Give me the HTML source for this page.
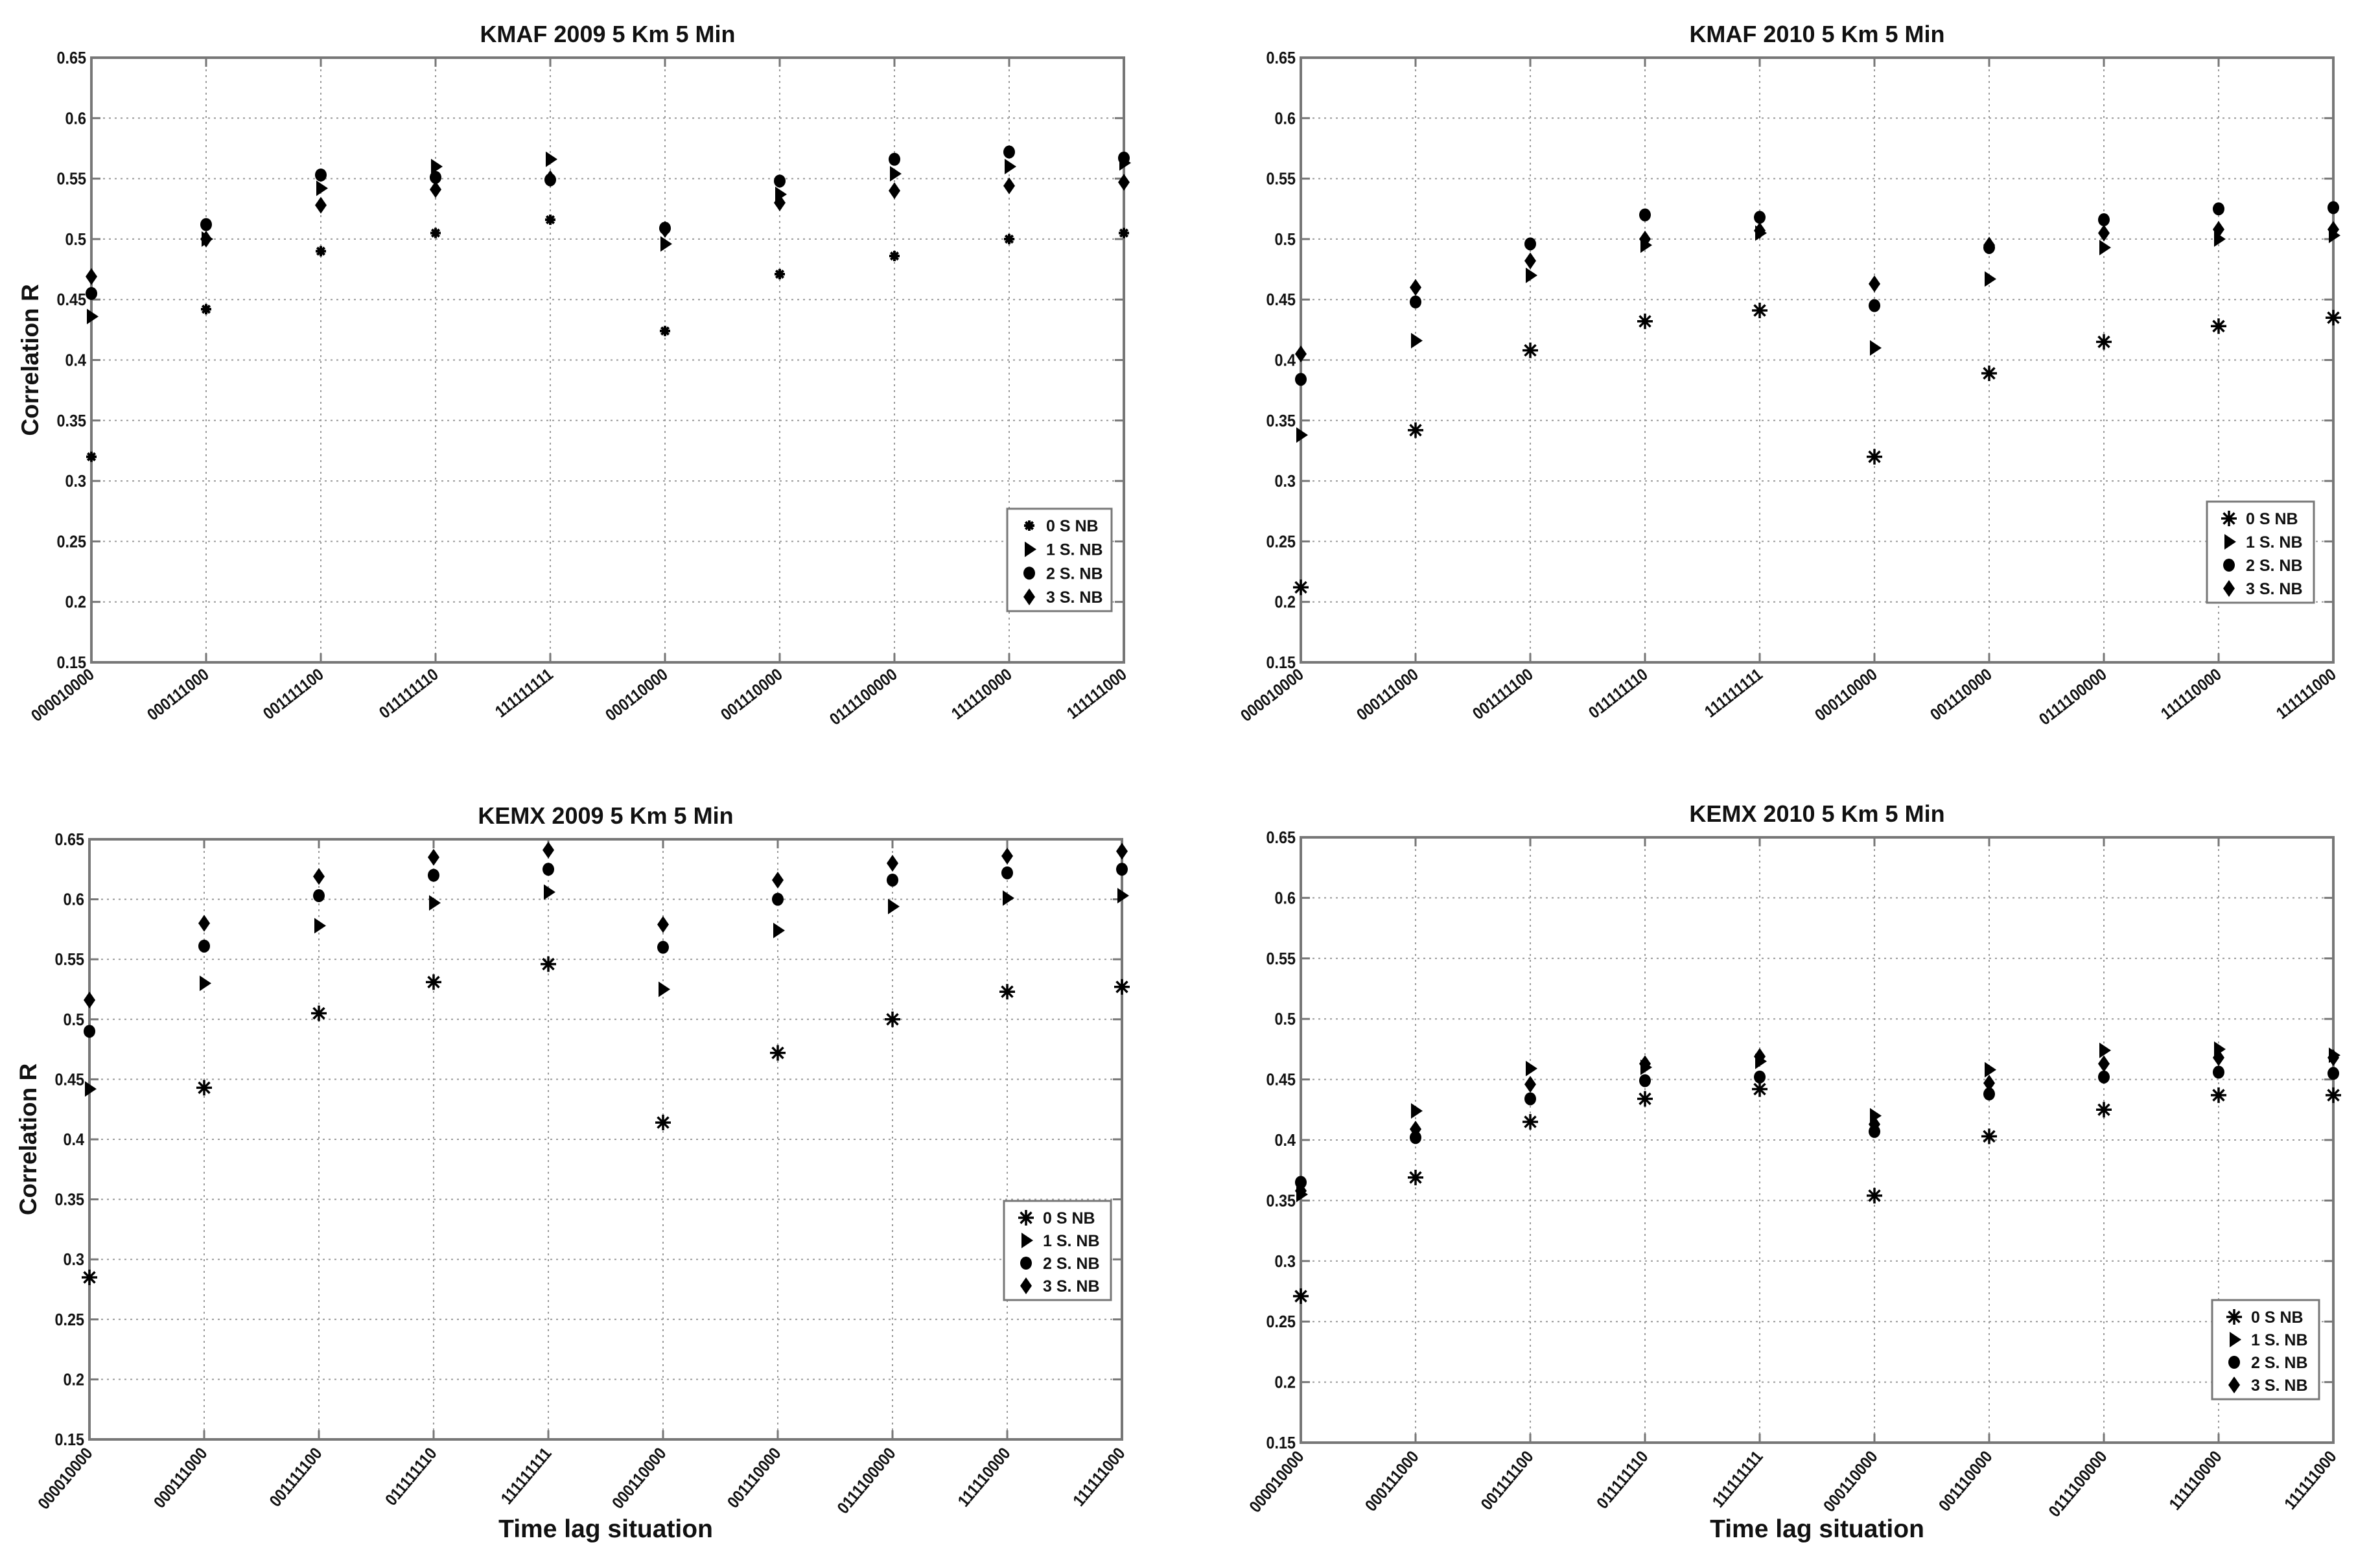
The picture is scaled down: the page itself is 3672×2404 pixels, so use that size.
<!DOCTYPE html>
<html><head><meta charset="utf-8"><style>
html,body{margin:0;padding:0;background:#fff;}
svg{display:block;}
text{font-family:"Liberation Sans",sans-serif;fill:#111;}
</style></head><body>
<svg id="fig" width="3672" height="2404" viewBox="0 0 3672 2404" xmlns="http://www.w3.org/2000/svg"></svg>
<script>
const categories = ["000010000","000111000","001111100","011111110","111111111","000110000","001110000","0111100000","111110000","111111000"];
const yTicks = [0.15,0.2,0.25,0.3,0.35,0.4,0.45,0.5,0.55,0.6,0.65];
const yTickLabels = ["0.15","0.2","0.25","0.3","0.35","0.4","0.45","0.5","0.55","0.6","0.65"];
const seriesNames = ["0 S NB","1 S. NB","2 S. NB","3 S. NB"];
const kmaf2009_s0 = [.32,.442,.49,.505,.516,.424,.471,.486,.5,.505];
const kmaf2009_s1 = [.436,.5,.542,.56,.566,.496,.537,.554,.56,.563];
const kmaf2009_s2 = [.455,.512,.553,.551,.549,.509,.548,.566,.572,.567];
const kmaf2009_s3 = [.469,.5,.528,.541,.55,.508,.53,.54,.544,.547];
const kmaf2010_s0 = [.212,.342,.408,.432,.441,.32,.389,.415,.428,.435];
const kmaf2010_s1 = [.338,.416,.47,.495,.505,.41,.467,.493,.5,.503];
const kmaf2010_s2 = [.384,.448,.496,.52,.518,.445,.493,.516,.525,.526];
const kmaf2010_s3 = [.405,.46,.482,.5,.507,.463,.495,.505,.508,.508];
const kemx2009_s0 = [.285,.443,.505,.531,.546,.414,.472,.5,.523,.527];
const kemx2009_s1 = [.442,.53,.578,.597,.606,.525,.574,.594,.601,.603];
const kemx2009_s2 = [.49,.561,.603,.62,.625,.56,.6,.616,.622,.625];
const kemx2009_s3 = [.516,.58,.619,.635,.641,.579,.616,.63,.636,.64];
const kemx2010_s0 = [.271,.369,.415,.434,.442,.354,.403,.425,.437,.437];
const kemx2010_s1 = [.355,.424,.459,.46,.465,.42,.458,.474,.475,.47];
const kemx2010_s2 = [.365,.402,.434,.449,.452,.407,.438,.452,.456,.455];
const kemx2010_s3 = [.358,.409,.446,.463,.469,.413,.447,.463,.468,.468];

const NS="http://www.w3.org/2000/svg";
const svg=document.getElementById('fig');
function mk(tag,attrs,parent){const e=document.createElementNS(NS,tag);for(const k in attrs)e.setAttribute(k,attrs[k]);(parent||svg).appendChild(e);return e;}

const panels=[
 {id:'kmaf-2009',title:'KMAF 2009 5 Km 5 Min',x0:141,x1:1734,y0:89,y1:1022,data:[kmaf2009_s0,kmaf2009_s1,kmaf2009_s2,kmaf2009_s3],leg:[1554,785,161,158],ylab:true,xlab:false,smallStar:true,ang:-38},
 {id:'kmaf-2010',title:'KMAF 2010 5 Km 5 Min',x0:2007,x1:3600,y0:89,y1:1022,data:[kmaf2010_s0,kmaf2010_s1,kmaf2010_s2,kmaf2010_s3],leg:[3405,774,165,156],ylab:false,xlab:false,ang:-38},
 {id:'kemx-2009',title:'KEMX 2009 5 Km 5 Min',x0:138,x1:1731,y0:1295,y1:2221,data:[kemx2009_s0,kemx2009_s1,kemx2009_s2,kemx2009_s3],leg:[1549,1853,165,153],ylab:true,xlab:true,ang:-50},
 {id:'kemx-2010',title:'KEMX 2010 5 Km 5 Min',x0:2007,x1:3600,y0:1292,y1:2226,data:[kemx2010_s0,kemx2010_s1,kemx2010_s2,kemx2010_s3],leg:[3413,2006,165,153],ylab:false,xlab:true,ang:-50}
];

function marker(g,type,cx,cy,s,small){
  if(type===0){
    const r=small?8:12;
    const p=mk('g',{stroke:'#000','stroke-width':small?4:3.5},g);
    for(let a=0;a<4;a++){const t=a*Math.PI/4;mk('line',{x1:cx-r*Math.cos(t),y1:cy-r*Math.sin(t),x2:cx+r*Math.cos(t),y2:cy+r*Math.sin(t)},p);}
    return p;
  } else if(type===1){
    return mk('path',{d:`M${cx-7},${cy-12} L${cx+11},${cy} L${cx-7},${cy+12} Z`,fill:'#000'},g);
  } else if(type===2){
    return mk('ellipse',{cx:cx,cy:cy,rx:9,ry:10,fill:'#000'},g);
  } else {
    return mk('path',{d:`M${cx},${cy-13} L${cx+9},${cy} L${cx},${cy+13} L${cx-9},${cy} Z`,fill:'#000'},g);
  }
}

panels.forEach(P=>{
  const g=mk('g',{});
  
  
  const W=P.x1-P.x0,H=P.y1-P.y0;
  const xs=i=>P.x0+i*W/(categories.length-1);
  const ys=v=>P.y0+(0.65-v)/0.5*H;
  const grid=mk('g',{stroke:'#999','stroke-width':2,'stroke-dasharray':'3,6'},g);
  
  
  yTicks.forEach(v=>{mk('line',{x1:P.x0,x2:P.x1,y1:ys(v),y2:ys(v)},grid);});
  categories.forEach((c,i)=>{mk('line',{x1:xs(i),x2:xs(i),y1:P.y0,y2:P.y1},grid);});
  const tk=mk('g',{stroke:'#777','stroke-width':3},g);
  yTicks.forEach(v=>{mk('line',{x1:P.x0,x2:P.x0+14,y1:ys(v),y2:ys(v)},tk);mk('line',{x1:P.x1,x2:P.x1-14,y1:ys(v),y2:ys(v)},tk);});
  categories.forEach((c,i)=>{mk('line',{x1:xs(i),x2:xs(i),y1:P.y1,y2:P.y1-14},tk);mk('line',{x1:xs(i),x2:xs(i),y1:P.y0,y2:P.y0+14},tk);});
  const frame=mk('rect',{x:P.x0,y:P.y0,width:W,height:H,fill:'none',stroke:'#777','stroke-width':4},g);
  
  
  yTicks.forEach((v,i)=>{
    const t=mk('text',{x:0,y:0,'text-anchor':'end','font-size':26,'font-weight':'bold',transform:`translate(${P.x0-8},${ys(v)+9}) scale(0.9,1)`},g);
    t.textContent=yTickLabels[i];
    
    
  });
  categories.forEach((c,i)=>{
    const x=xs(i)+6,y=P.y1+22;
    const t=mk('text',{x:0,y:0,'text-anchor':'end','font-size':26,'font-weight':'bold',transform:`translate(${x},${y}) rotate(${P.ang}) scale(0.88,1)`},g);
    t.textContent=c;
    
    
  });
  const tt=mk('text',{x:(P.x0+P.x1)/2,y:P.y0-24,'text-anchor':'middle','font-size':36,'font-weight':'bold'},g);
  tt.textContent=P.title;
  
  
  if(P.ylab){
    const yl=mk('text',{x:0,y:0,'text-anchor':'middle','font-size':37,'font-weight':'bold',transform:`translate(${P.x0-82},${(P.y0+P.y1)/2}) rotate(-90)`},g);
    yl.textContent='Correlation R';
    
    
  }
  if(P.xlab){
    const xl=mk('text',{x:(P.x0+P.x1)/2,y:2372,'text-anchor':'middle','font-size':39,'font-weight':'bold'},g);
    xl.textContent='Time lag situation';
    
    
  }
  P.data.forEach((arr,s)=>{
    const sg=mk('g',{},g);
    
    
    arr.forEach((v,i)=>{
      const m=marker(sg,s,xs(i),ys(v),1,P.smallStar);
      
      
    });
  });
  const [lx,ly,lw,lh]=P.leg;
  const lg=mk('g',{},g);
  
  
  mk('rect',{x:lx,y:ly,width:lw,height:lh,fill:'#fff',stroke:'#777','stroke-width':3},lg);
  seriesNames.forEach((n,s)=>{
    const cy=ly+24+s*(lh-48)/3+2;
    const e=mk('g',{},lg);
    
    
    marker(e,s,lx+34,cy,1,P.smallStar);
    const t=mk('text',{x:lx+60,y:cy+9,'font-size':25,'font-weight':'bold'},e);
    t.textContent=n;
  });
});
</script>
</body></html>
